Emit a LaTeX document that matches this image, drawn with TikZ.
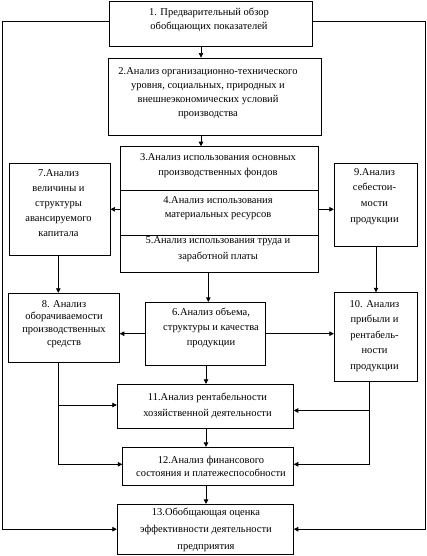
\documentclass[tikz,border=0pt]{standalone}
\usepackage{fontspec}
\setmainfont{Liberation Serif}
\usetikzlibrary{arrows.meta}
\begin{document}
\begin{tikzpicture}[x=1pt,y=-1pt,
  box/.style={draw, line width=0.9pt, inner sep=0pt},
  txt/.style={align=center, inner sep=0pt, font=\fontsize{10.5}{15}\selectfont},
  arr/.style={line width=0.7pt, -{Triangle[length=4.5pt,width=4.5pt]}},
  ln/.style={line width=0.7pt}]
\useasboundingbox (0,0) rectangle (427,556);
% boxes
\node[box, minimum width=203pt, minimum height=45pt] (n1) at (210.5,23.5) {};
\node[box, minimum width=213pt, minimum height=77pt] (n2) at (215.2,96.5) {};
\node[box, minimum width=197.6pt, minimum height=44pt] (n3) at (219.5,168.7) {};
\node[box, minimum width=197.6pt, minimum height=45pt] (n4) at (219.5,213.2) {};
\node[box, minimum width=197.6pt, minimum height=37pt] (n5) at (219.5,254.2) {};
\node[box, minimum width=101pt, minimum height=91.7pt] (n7) at (59.5,209.2) {};
\node[box, minimum width=83.4pt, minimum height=83.4pt] (n9) at (376,205) {};
\node[box, minimum width=111pt, minimum height=69.4pt] (n8) at (63.8,328) {};
\node[box, minimum width=120pt, minimum height=62.7pt] (n6) at (205,333.7) {};
\node[box, minimum width=83.4pt, minimum height=89pt] (n10) at (376,337.2) {};
\node[box, minimum width=176pt, minimum height=44pt] (n11) at (205.3,406.3) {};
\node[box, minimum width=170.6pt, minimum height=37.7pt] (n12) at (208,466.2) {};
\node[box, minimum width=176pt, minimum height=49.7pt] (n13) at (205.3,529.2) {};
% texts
\node[txt, font=\fontsize{10.5}{14}\selectfont] (t1) at (209,20) {1. Предварительный обзор\\обобщающих показателей};
\node[txt, font=\fontsize{10.5}{14}\selectfont] (t2) at (208,93) {2.Анализ организационно-технического\\уровня, социальных, природных и\\внешнеэкономических условий\\производства};
\node[txt, font=\fontsize{10.5}{15.5}\selectfont] (t3) at (218,165.5) {3.Анализ использования основных\\производственных фондов};
\node[txt, font=\fontsize{10.5}{13.5}\selectfont] (t4) at (218,208.3) {4.Анализ использования\\материальных ресурсов};
\node[txt, font=\fontsize{10.5}{16}\selectfont] (t5) at (218,249.5) {5.Анализ использования труда и\\заработной платы};
\node[txt] (t7) at (58.5,203) {7.Анализ\\величины и\\структуры\\авансируемого\\капитала};
\node[txt, font=\fontsize{10.5}{15.7}\selectfont] (t9) at (374.5,196.5) {9.Анализ\\себестои-\\мости\\продукции};
\node[txt, font=\fontsize{10.5}{12.8}\selectfont] (t8) at (64,324) {8. Анализ\\оборачиваемости\\производственных\\средств};
\node[txt] (t6) at (211,328) {6.Анализ объема,\\структуры и качества\\продукции};
\node[txt, font=\fontsize{10.5}{15.5}\selectfont] (t10) at (374.5,336) {10. Анализ\\прибыли и\\рентабель-\\ности\\продукции};
\node[txt, font=\fontsize{10.5}{16}\selectfont] (t11) at (207.5,406) {11.Анализ рентабельности\\хозяйственной деятельности};
\node[txt, font=\fontsize{10.5}{13}\selectfont] (t12) at (211,466.5) {12.Анализ финансового\\состояния и платежеспособности};
\node[txt, font=\fontsize{10.5}{17}\selectfont] (t13) at (206,530) {13.Обобщающая оценка\\эффективности деятельности\\предприятия};
% helper coordinates
\coordinate (c1) at (201,0);
\coordinate (m4) at (0,209.3);
\coordinate (c7) at (58.3,0);
\coordinate (c5) at (208.3,0);
\coordinate (c6) at (206,0);
\coordinate (c8) at (58,0);
\coordinate (c10) at (369,0);
\coordinate (y11l) at (0,405);
\coordinate (y11r) at (0,410.5);
\coordinate (y12) at (0,464.3);
\coordinate (yo) at (0,21);
\coordinate (ol) at (2,0);
\coordinate (or) at (425,0);
% connectors
\draw[arr] (n1.south -| c1) -- (n2.north -| c1);
\draw[arr] (n2.south -| c1) -- (n3.north -| c1);
\draw[arr] (n4.west |- m4) -- (n7.east |- m4);
\draw[arr] (n4.east |- m4) -- (n9.west |- m4);
\draw[arr] (n7.south -| c7) -- (n8.north -| c7);
\draw[arr] (n5.south -| c5) -- (n6.north -| c5);
\draw[arr] (n9.south) -- (n10.north);
\draw[arr] (n6.west) -- (n8.east |- n6.west);
\draw[arr] (n6.east) -- (n10.west |- n6.east);
\draw[arr] (n6.south -| c6) -- (n11.north -| c6);
\draw[arr] (n11.south -| c6) -- (n12.north -| c6);
\draw[arr] (n12.south -| c6) -- (n13.north -| c6);
\draw[arr] (n8.south -| c8) |- (n12.west |- y12);
\draw[arr] (c8 |- y11l) -- (n11.west |- y11l);
\draw[arr] (n10.south -| c10) |- (n12.east |- y12);
\draw[arr] (c10 |- y11r) -- (n11.east |- y11r);
\draw[arr] (n1.west |- yo) -- (ol |- yo) |- (n13.west);
\draw[arr] (n1.east |- yo) -- (or |- yo) |- (n13.east);
\end{tikzpicture}
\end{document}
